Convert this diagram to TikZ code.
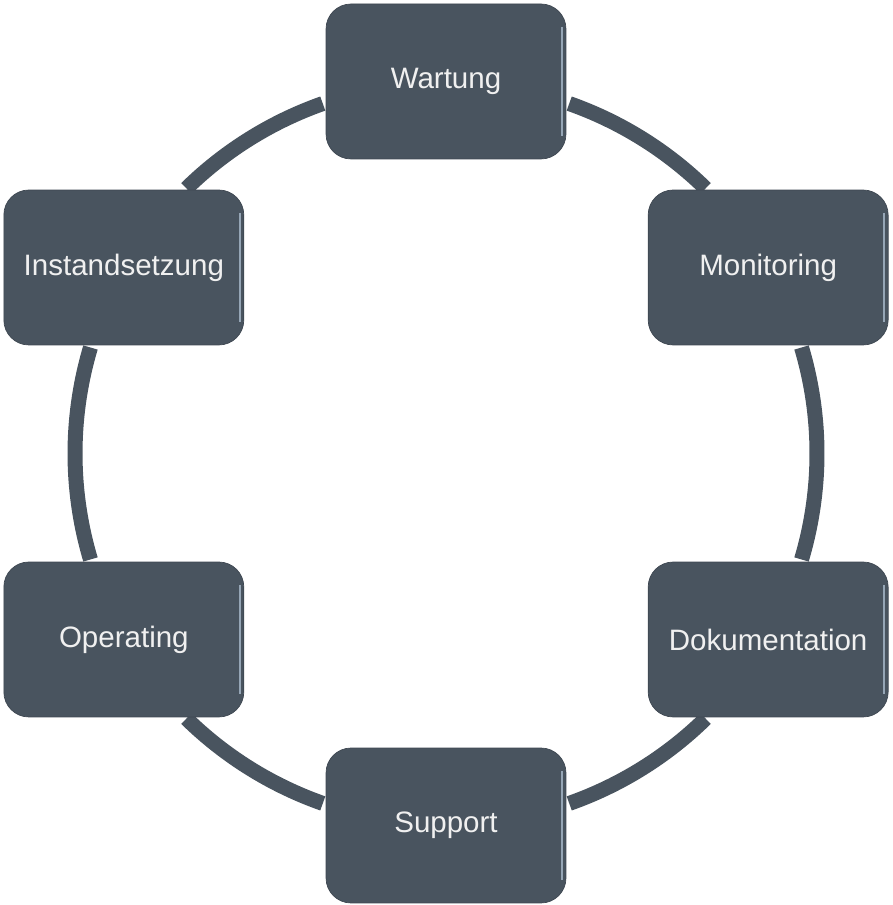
\documentclass[tikz,border=0pt]{standalone}
\usepackage{fontspec}
\setmainfont{Liberation Sans}
\usetikzlibrary{calc,positioning,backgrounds}
\definecolor{slate}{RGB}{73,84,95}
\definecolor{slatelight}{RGB}{150,166,182}
\tikzstyle{phase}=[rectangle,rounded corners=0.5cm,fill=slate,draw=slate!85!black,thin,
	minimum width=4.8cm,minimum height=3.1cm,inner sep=0pt,text=white!94!black,
	font=\fontsize{16.8}{20}\selectfont,
	path picture={\draw[slatelight,line width=1.2pt] ([xshift=-2.2pt,yshift=-13pt]path picture bounding box.north east) -- ([xshift=-2.2pt,yshift=13pt]path picture bounding box.south east);}]
\tikzstyle{ring}=[slate,line width=0.3cm]
\newcommand{\drawarcs}[2][\empty]{
	\foreach \a/\b in {#2}{
		\draw[#1] ($(c)+(\a:371)$) arc[start angle=\a,end angle=\b,radius=371];
	}
}

\begin{document}
\begin{tikzpicture}[x=0.02cm,y=0.02cm]
\useasboundingbox (0,0) rectangle (892,905);
\coordinate (c) at (446,451.5);

% six phases round the cycle
\node[phase] (wartung) at ($(c)+(90:372)$) {Wartung};
\node[phase] (monitoring) at ($(c)+(30:372)$) {Monitoring};
\node[phase] (doku) at ($(c)+(-30:372)$) {Dokumentation};
\node[phase] (support) at ($(c)+(-90:372)$) {Support};
\node[phase] (operating) at ($(c)+(210:372)$) {Operating};
\node[phase] (instand) at ($(c)+(150:372)$) {Instandsetzung};

% ring between the boxes
\begin{scope}[on background layer]
\drawarcs[ring]{70.6/45.6,16.6/-16.6,-45.6/-70.6,-109.4/-134.4,163.4/196.6,134.4/109.4}
\end{scope}
\end{tikzpicture}
\end{document}
